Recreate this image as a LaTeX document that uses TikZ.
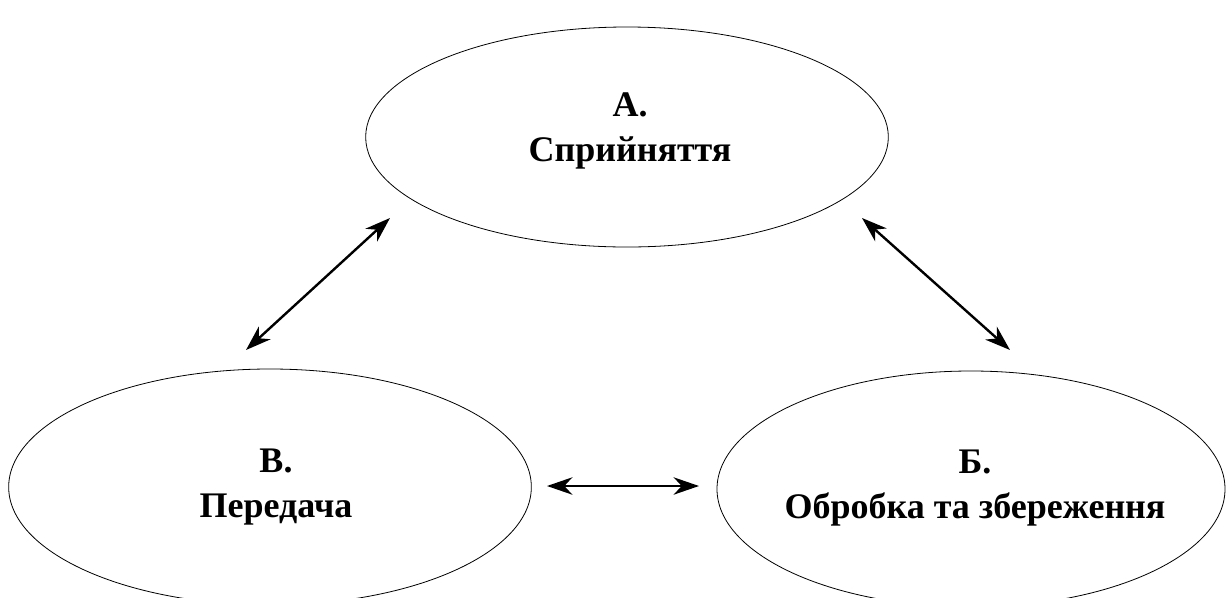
\documentclass[tikz,border=0pt]{standalone}
\usepackage{fontspec}
\setmainfont{Liberation Serif}
\usetikzlibrary{shapes, arrows.meta}

\begin{document}
\begin{tikzpicture}[x=0.75pt, y=-0.75pt]
	\tikzstyle{stagenode}=[
	draw,
	ellipse,
	line width=0.6pt,
	inner sep=0pt
	]
	\tikzstyle{stagetext}=[
	inner sep=0pt,
	align=center,
	font=\fontsize{27}{34}\selectfont\bfseries
	]
	\tikzstyle{linkarrow}=[
	{Stealth[length=19pt, width=13pt, inset=6pt]}-{Stealth[length=19pt, width=13pt, inset=6pt]},
	line width=1.8pt
	]
	\useasboundingbox (0,0) rectangle (1227,597);
	\node[stagenode, minimum width=392pt, minimum height=165pt] (A) at (627,137) {};
	\node[stagenode, minimum width=392pt, minimum height=177pt] (V) at (270,487) {};
	\node[stagenode, minimum width=381pt, minimum height=177pt] (B) at (971,489) {};
	\node[stagetext] (Atext) at (630,131) {А.\\ Сприйняття};
	\node[stagetext] (Vtext) at (276,487) {В.\\ Передача};
	\node[stagetext] (Btext) at (975,488) {Б.\\ Обробка та збереження};
	%
	\coordinate (AV1) at (390,218);
	\coordinate (AV2) at (246,350);
	\coordinate (AB1) at (862,218);
	\coordinate (AB2) at (1010,350);
	\coordinate (VB1) at (547,486);
	\coordinate (VB2) at (699,486);
	\draw[linkarrow] (AV1) -- (AV2);
	\draw[linkarrow] (AB1) -- (AB2);
	\draw[linkarrow] (VB1) -- (VB2);
\end{tikzpicture}
\end{document}
